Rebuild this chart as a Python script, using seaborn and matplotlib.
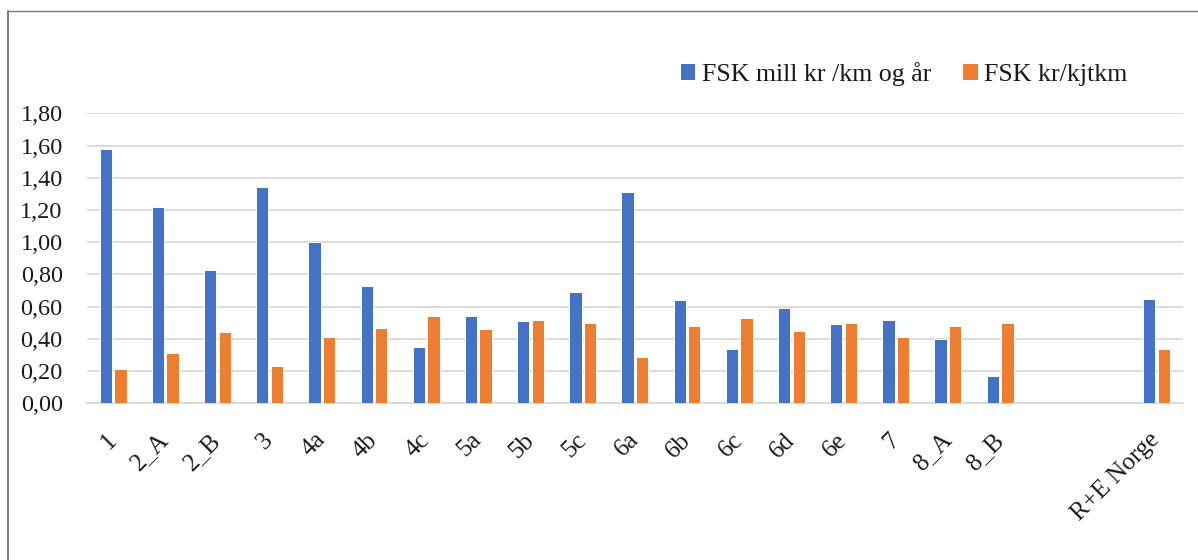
import numpy as np
import pandas as pd
import matplotlib
matplotlib.use("Agg")
import matplotlib.pyplot as plt
from matplotlib.lines import Line2D
from matplotlib.patches import Patch
from matplotlib.ticker import FuncFormatter, FixedLocator
import seaborn as sns

# Regions (two empty slots sit between 8_B and the national figure)
regions = ["1", "2_A", "2_B", "3", "4a", "4b", "4c", "5a", "5b", "5c",
           "6a", "6b", "6c", "6d", "6e", "7", "8_A", "8_B", "R+E Norge"]
fsk_mill_per_km = [1.58, 1.22, 0.83, 1.34, 1.00, 0.73, 0.35, 0.54, 0.51, 0.69,
                   1.31, 0.64, 0.34, 0.59, 0.49, 0.52, 0.40, 0.17, 0.65]
fsk_kr_per_kjtkm = [0.21, 0.31, 0.44, 0.23, 0.41, 0.47, 0.54, 0.46, 0.52, 0.50,
                    0.29, 0.48, 0.53, 0.45, 0.50, 0.41, 0.48, 0.50, 0.34]
series = ["FSK mill kr /km og år", "FSK kr/kjtkm"]
y_ticks = [0.0, 0.2, 0.4, 0.6, 0.8, 1.0, 1.2, 1.4, 1.6, 1.8]

blue = "#4472C4"
orange = "#ED7D31"
grid_col = "#d9d9d9"
text_col = "#1a1a1a"

df = pd.DataFrame({
    "område": regions * 2,
    "serie": [series[0]] * len(regions) + [series[1]] * len(regions),
    "verdi": fsk_mill_per_km + fsk_kr_per_kjtkm,
})
blank_slots = [" ", "  "]
order = regions[:-1] + blank_slots + regions[-1:]

sns.set_style("white")
plt.rcParams["font.family"] = ["Liberation Serif", "DejaVu Serif"]
plt.rcParams["font.size"] = 17.5

fig = plt.figure(figsize=(11.98, 5.6), dpi=100)
ax = fig.add_axes([87 / 1198, 1 - 403.3 / 560, (1182.7 - 87) / 1198, (403.3 - 113.3) / 560])

sns.barplot(data=df, x="område", y="verdi", hue="serie", order=order,
            hue_order=series, palette=[blue, orange], saturation=1,
            width=0.56, gap=0.16, edgecolor="white", linewidth=0.7,
            errorbar=None, ax=ax, zorder=3)

ax.set_xlim(-0.5, len(order) - 0.5)
ax.set_ylim(0, 1.8)
ax.set_yticks(y_ticks)
ax.yaxis.set_major_formatter(FuncFormatter(lambda v, _: f"{v:.2f}".replace(".", ",")))
ax.tick_params(axis="y", length=0, pad=17.5, labelsize=17.5, labelcolor=text_col)
ax.grid(axis="y", color=grid_col, linewidth=1.3, zorder=0)
ax.set_axisbelow(True)

labels = [("" if c in blank_slots else c) for c in order]
ax.set_xticks(range(len(order)))
ax.set_xticklabels(labels, rotation=45, ha="right", va="center",
                   rotation_mode="anchor", color=text_col, fontsize=18)
ax.tick_params(axis="x", which="major", length=0, pad=24)
ax.xaxis.set_minor_locator(FixedLocator(np.arange(-0.5, len(order), 1.0)))
ax.tick_params(axis="x", which="minor", length=6, width=1.2, color=grid_col)

ax.set_xlabel("")
ax.set_ylabel("")
for side in ["top", "right", "left"]:
    ax.spines[side].set_visible(False)
ax.spines["bottom"].set_color(grid_col)
ax.spines["bottom"].set_linewidth(1.3)

if ax.get_legend() is not None:
    ax.get_legend().remove()
handles = [Patch(facecolor=blue, edgecolor="none"), Patch(facecolor=orange, edgecolor="none")]
fig.legend(handles, series, loc="center left", bbox_to_anchor=(681 / 1198, 1 - 74 / 560),
           ncol=2, frameon=False, borderpad=0, borderaxespad=0,
           handlelength=0.55, handleheight=0.55, handletextpad=0.25,
           columnspacing=1.25, fontsize=18.6, labelcolor=text_col)

# Outer frame: top and left edges
fig.add_artist(Line2D([7.5 / 1198, 1.0], [1 - 11 / 560, 1 - 11 / 560],
                      transform=fig.transFigure, color="#7a7a7a", linewidth=1.0))
fig.add_artist(Line2D([7.5 / 1198, 7.5 / 1198], [0.0, 1 - 11 / 560],
                      transform=fig.transFigure, color="#7a7a7a", linewidth=1.4))

fig.savefig("out.png", dpi=100, facecolor="white")
